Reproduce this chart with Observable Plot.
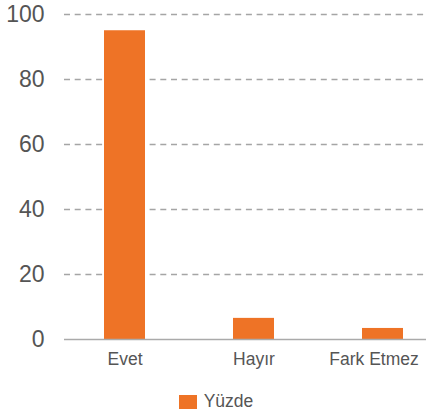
<!DOCTYPE html>
<html><head><meta charset="utf-8">
<script src="https://cdn.jsdelivr.net/npm/d3@7"></script>
<script src="https://cdn.jsdelivr.net/npm/@observablehq/plot@0.6"></script>
<style>
body{margin:0;background:#fff;font-family:"Liberation Sans",Arial,sans-serif;}
#legend{display:flex;justify-content:center;align-items:center;gap:7px;font-size:17.5px;color:#555;margin-top:16px;padding-left:6px}
#legend span.sw{display:inline-block;width:18px;height:14px;background:#EE7326}
</style></head>
<body><div id="chart"></div>
<div id="legend"><span class="sw"></span><span id="lgtext"></span></div>
<script>
const categories = ["Evet", "Hayır", "Fark Etmez"];
const values = [95, 6.5, 3.4];
const yTicks = [0, 20, 40, 60, 80, 100];
const seriesName = "Yüzde";

const data = categories.map((c, i) => ({cat: c, v: values[i]}));
const color = "#EE7326";

const plot = Plot.plot({
  width: 426,
  height: 375,
  marginLeft: 64,
  marginRight: 0,
  marginTop: 14,
  marginBottom: 36,
  style: {fontFamily: "'Liberation Sans', Arial, sans-serif", color: "#555", background: "#fff"},
  x: {domain: categories, paddingInner: 0.683, paddingOuter: 0.239, align: 0.63, label: null},
  y: {domain: [0, 100], label: null},
  marks: [
    Plot.gridY(yTicks.filter(d => d > 0), {stroke: "#a5a5a5", strokeOpacity: 1, strokeWidth: 1.7, strokeDasharray: "6,4.7"}),
    Plot.barY(data, {x: "cat", y: "v", fill: color}),
    Plot.ruleY([0], {stroke: "#aaa", strokeWidth: 1.5}),
    Plot.axisY(yTicks, {tickSize: 0, tickPadding: 20, fill: "#555", label: null, fontSize: 23}),
    Plot.axisX(categories.slice(0, 2), {tickSize: 0, tickPadding: 13, fill: "#555", label: null, fontSize: 17.5}),
    Plot.axisX(categories.slice(2), {tickSize: 0, tickPadding: 13, fill: "#555", label: null, dx: -9, fontSize: 17.5})
  ]
});
const svg = d3.select(plot);
svg.selectAll('g[aria-label^="y-axis"]').style("font-size", "23px");
svg.selectAll('g[aria-label^="x-axis"]').style("font-size", "17.5px");
document.getElementById("chart").appendChild(plot);
document.getElementById("lgtext").textContent = seriesName;
</script></body></html>
